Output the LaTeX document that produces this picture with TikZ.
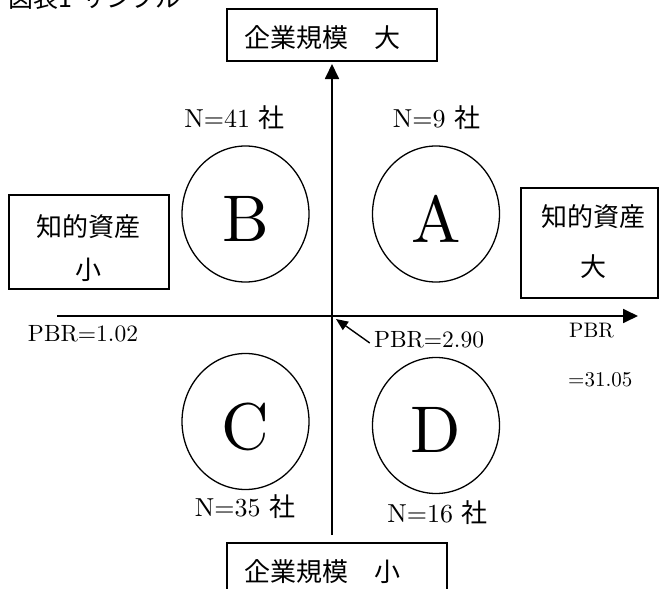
\documentclass[tikz,border=0pt]{standalone}
\usepackage{fontspec}
\newfontfamily\jp{Noto Sans CJK JP}
\newfontfamily\lmten{lmroman10-regular.otf}
\usetikzlibrary{arrows.meta,shapes.geometric}
\begin{document}
\begin{tikzpicture}[x=1pt,y=-1pt,
  box/.style={draw, line width=1.7pt, inner sep=0pt},
  circ/.style={draw, ellipse, line width=1.3pt, minimum width=127pt, minimum height=136pt, inner sep=0pt},
  letter/.style={inner sep=0pt, font=\lmten\fontsize{66pt}{66pt}\selectfont},
  jptext/.style={inner sep=0pt, font=\jp\fontsize{26pt}{26pt}\selectfont},
  nlab/.style={inner sep=0pt, font=\lmten\fontsize{26pt}{26pt}\selectfont},
  pbr/.style={inner sep=0pt, font=\lmten\fontsize{23.5pt}{23.5pt}\selectfont},
  pbrs/.style={inner sep=0pt, font=\lmten\fontsize{21pt}{21pt}\selectfont},
  axis/.style={line width=1.8pt, -{Triangle[length=15pt,width=14pt]}},
  small/.style={line width=1.4pt, -{Triangle[length=12pt,width=10pt]}}
]
\useasboundingbox (0,0) rectangle (659,589);

% title (partly cut off at the top)
\node[jptext, anchor=base west, font=\jp\fontsize{25pt}{25pt}\selectfont] (title) at (8,7) {図表1\hspace{9pt}サンプル};

% boxes
\node[box, minimum width=210pt, minimum height=52pt] (topbox) at (332,35) {};
\node[jptext] (toptext) at (322.5,38) {企業規模　大};
\node[box, minimum width=220pt, minimum height=58pt] (botbox) at (337,572) {};
\node[jptext] (bottext) at (322.5,572) {企業規模　小};
\node[box, minimum width=160pt, minimum height=94pt] (leftbox) at (89,242) {};
\node[jptext, align=center, font=\jp\fontsize{26pt}{43pt}\selectfont] (lefttext) at (88.5,248.5) {知的資産\\小};
\node[box, minimum width=137pt, minimum height=110pt] (rightbox) at (589.5,243) {};
\node[jptext, align=center, font=\jp\fontsize{26pt}{50pt}\selectfont] (righttext) at (593,242) {知的資産\\大};

% axes
\coordinate (vbot) at (332,535);
\coordinate (vtop) at (332,64);
\coordinate (hleft) at (57,316);
\coordinate (hright) at (638,316);
\draw[axis] (vbot) -- (vtop);
\draw[axis] (hleft) -- (hright);

% circles
\node[circ] (cA) at (436,214) {};
\node[circ] (cB) at (245.5,214) {};
\node[circ] (cC) at (245.5,421.5) {};
\node[circ] (cD) at (436,425.5) {};
\node[letter] (lA) at (436,219) {A};
\node[letter] (lB) at (246,219) {B};
\node[letter] (lC) at (245.5,427) {C};
\node[letter] (lD) at (436,430) {D};

% counts
\node[nlab] (nB) at (234.5,118) {N=41 {\jp 社}};
\node[nlab] (nA) at (436.5,118) {N=9 {\jp 社}};
\node[nlab] (nC) at (245,507) {N=35 {\jp 社}};
\node[nlab] (nD) at (437.5,513) {N=16 {\jp 社}};

% PBR labels
\node[pbr] (p102) at (83,333.5) {PBR=1.02};
\node[pbr] (p290) at (429,340) {PBR=2.90};
\node[pbrs, anchor=west] (p31a) at (569,330.5) {PBR};
\node[pbrs, anchor=west] (p31b) at (568,380) {=31.05};
\coordinate (ptip) at (336,319);
\draw[small] ([xshift=-4pt,yshift=-3pt]p290.west) -- (ptip);
\end{tikzpicture}
\end{document}
